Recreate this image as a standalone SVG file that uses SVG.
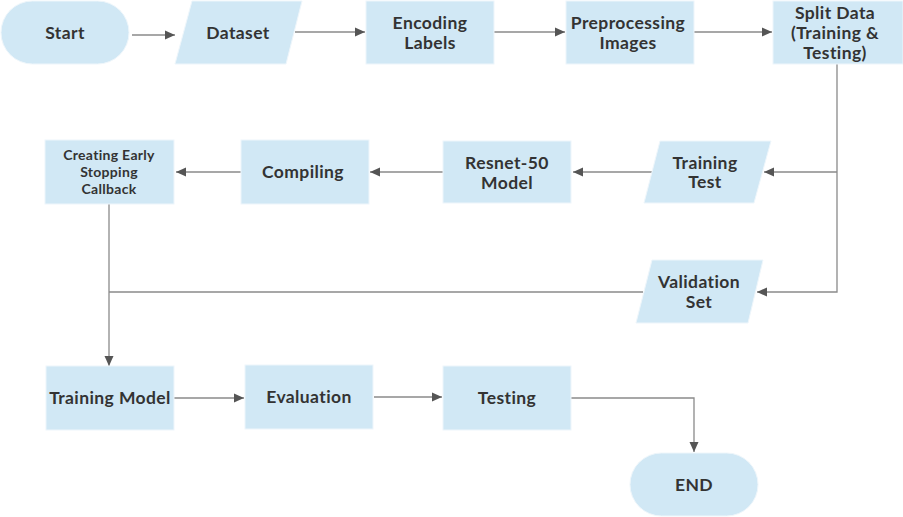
<svg xmlns="http://www.w3.org/2000/svg" width="903" height="517" viewBox="0 0 903 517">
<style>
.n{fill:#d1e8f5;stroke:#eef6fb;stroke-width:1}
.t{font-family:"Lato","Open Sans",sans-serif;font-weight:700;font-size:17.5px;letter-spacing:0.4px;fill:#333;text-anchor:middle}
.s{font-size:14px;letter-spacing:0.3px}
.c{fill:none;stroke:#8a8a8a;stroke-width:1.3}
</style>
<defs>
<marker id="a" markerUnits="userSpaceOnUse" markerWidth="12" markerHeight="10" refX="10" refY="5" orient="auto">
<path d="M0,0.5 L10,5 L0,9.5 Z" fill="#555"/>
</marker>
</defs>
<rect width="903" height="517" fill="#fff"/>
<g id="connectors">
<path class="c" d="M132,35 H175" marker-end="url(#a)"/>
<path class="c" d="M295,32 H365" marker-end="url(#a)"/>
<path class="c" d="M494,32 H565" marker-end="url(#a)"/>
<path class="c" d="M694,32 H772" marker-end="url(#a)"/>
<path class="c" d="M837,64 V292 H757" marker-end="url(#a)"/>
<path class="c" d="M837,172 H764" marker-end="url(#a)"/>
<path class="c" d="M652,172 H573" marker-end="url(#a)"/>
<path class="c" d="M443,172 H370" marker-end="url(#a)"/>
<path class="c" d="M241,172 H176" marker-end="url(#a)"/>
<path class="c" d="M643,292 H109"/>
<path class="c" d="M109,204 V366" marker-end="url(#a)"/>
<path class="c" d="M174,398 H244" marker-end="url(#a)"/>
<path class="c" d="M374,397 H442" marker-end="url(#a)"/>
<path class="c" d="M571,398 H694 V452" marker-end="url(#a)"/>
</g>
<g id="start"><rect class="n" x="1" y="1" width="128" height="63" rx="31.5"/><text class="t" x="65" y="39">Start</text></g>
<g id="dataset"><polygon class="n" points="192,1 302,1 286,64 175,64"/><text class="t" x="238" y="39">Dataset</text></g>
<g id="encoding"><rect class="n" x="366" y="1" width="128" height="63"/><text class="t" x="430" y="29">Encoding</text><text class="t" x="430" y="49">Labels</text></g>
<g id="preprocessing"><rect class="n" x="566" y="1" width="128" height="63"/><text class="t" x="628" y="29">Preprocessing</text><text class="t" x="628" y="49">Images</text></g>
<g id="split"><rect class="n" x="773" y="1" width="130" height="63"/><text class="t" x="835" y="19">Split Data</text><text class="t" x="835" y="39">(Training &amp;</text><text class="t" x="835" y="59">Testing)</text></g>
<g id="trainingtest"><polygon class="n" points="660,141 771,141 754,203 644,203"/><text class="t" x="705" y="169">Training</text><text class="t" x="705" y="188">Test</text></g>
<g id="resnet"><rect class="n" x="443" y="141" width="128" height="62"/><text class="t" x="507" y="169">Resnet-50</text><text class="t" x="507" y="189">Model</text></g>
<g id="compiling"><rect class="n" x="241" y="140" width="128" height="64"/><text class="t" x="303" y="178">Compiling</text></g>
<g id="callback"><rect class="n" x="45" y="140" width="129" height="64"/><text class="t s" x="109" y="160">Creating Early</text><text class="t s" x="109" y="177">Stopping</text><text class="t s" x="109" y="194">Callback</text></g>
<g id="validation"><polygon class="n" points="652,260 763,260 748,323 636,323"/><text class="t" x="699" y="288">Validation</text><text class="t" x="699" y="308">Set</text></g>
<g id="trainingmodel"><rect class="n" x="46" y="366" width="128" height="64"/><text class="t" x="110" y="404">Training Model</text></g>
<g id="evaluation"><rect class="n" x="245" y="365" width="128" height="64"/><text class="t" x="309" y="403">Evaluation</text></g>
<g id="testing"><rect class="n" x="443" y="366" width="128" height="64"/><text class="t" x="507" y="404">Testing</text></g>
<g id="end"><rect class="n" x="630" y="453" width="128" height="63" rx="31.5"/><text class="t" x="694" y="491">END</text></g>
</svg>
